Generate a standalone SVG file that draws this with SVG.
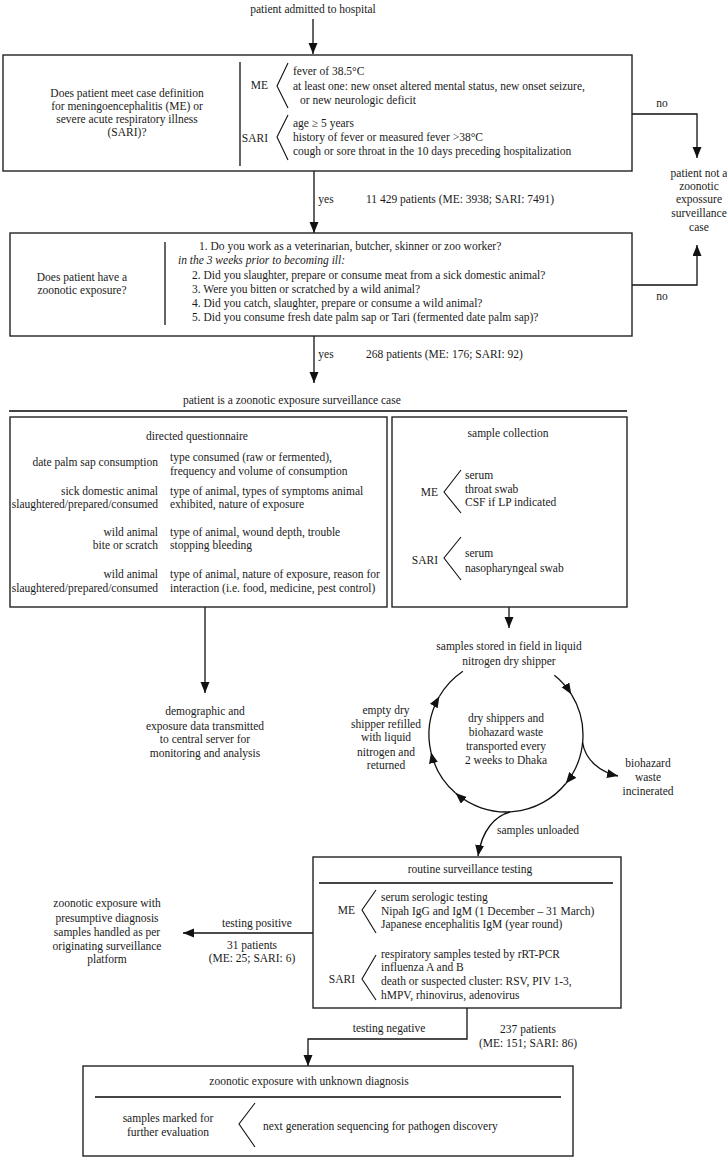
<svg xmlns="http://www.w3.org/2000/svg" width="727" height="1158" viewBox="0 0 727 1158">
<style>
text{font-family:"Liberation Serif","Times New Roman",serif;font-size:11.5px;fill:#1a1a1a}
.c{text-anchor:middle}
.e{text-anchor:end}
.i{font-style:italic}
.box{fill:none;stroke:#222;stroke-width:1.4}
.ln{fill:none;stroke:#111;stroke-width:1.3}
.sep{fill:none;stroke:#444;stroke-width:2}
.chev{fill:none;stroke:#111;stroke-width:1.1}
.arr{fill:none;stroke:#111;stroke-width:1.3;marker-end:url(#ah)}
</style>
<defs>
<marker id="ah" markerUnits="userSpaceOnUse" markerWidth="12" markerHeight="10" refX="11" refY="4.5" orient="auto"><path d="M0,0 L11,4.5 L0,9 z" fill="#111"/></marker>
</defs>
<rect width="727" height="1158" fill="#fff"/>

<g id="connectors">
<path class="arr" d="M313,19 V54"/>
<path class="arr" d="M314,171 V233"/>
<path class="arr" d="M632,114 H697 V158"/>
<path class="arr" d="M632,285 H697 V245"/>
<path class="arr" d="M314,336 V383"/>
<path class="arr" d="M205,607 V693"/>
<path class="arr" d="M509,607 V628"/>
<path class="arr" d="M554.4,675.2 A77,77 0 0 1 571.3,694.2"/>
<path class="arr" d="M571.3,694.2 A77,77 0 0 1 565.8,783.5"/>
<path class="arr" d="M565.8,783.5 A77,77 0 0 1 455.5,793.1"/>
<path class="arr" d="M455.5,793.1 A77,77 0 0 1 431,752.3"/>
<path class="arr" d="M431,752.3 A77,77 0 0 1 439.3,696.5"/>
<path class="ln" d="M439.3,696.5 A77,77 0 0 1 462.9,671.2"/>
<path class="arr" d="M582.5,742 C585,760 600,772 618,776"/>
<path class="arr" d="M510,812 C495,816 482,830 478,856"/>
<path class="arr" d="M313,933 H183"/>
<path class="arr" d="M467,1008 V1039 H308 V1066"/>
<text class="c" x="326" y="203">yes</text>
<text x="366" y="203">11 429 patients (ME: 3938; SARI: 7491)</text>
<text class="c" x="662" y="107">no</text>
<text class="c" x="662" y="300">no</text>
<text class="c" x="326" y="358">yes</text>
<text x="366" y="358">268 patients (ME: 176; SARI: 92)</text>
<text class="c" x="257" y="927">testing positive</text>
<text class="c" x="252" y="949">31 patients</text>
<text class="c" x="252" y="962">(ME: 25; SARI: 6)</text>
<text class="c" x="389" y="1032">testing negative</text>
<text class="c" x="528" y="1033">237 patients</text>
<text class="c" x="528" y="1047">(ME: 151; SARI: 86)</text>
<text class="c" x="538" y="834">samples unloaded</text>
</g>

<g id="admitted">
<text class="c" x="313" y="13">patient admitted to hospital</text>
</g>

<g id="case-definition">
<rect class="box" x="3" y="55" width="629" height="116"/>
<text class="c" x="127" y="97">Does patient meet case definition</text>
<text class="c" x="127" y="110">for meningoencephalitis (ME) or</text>
<text class="c" x="127" y="123">severe acute respiratory illness</text>
<text class="c" x="127" y="136">(SARI)?</text>
<path class="ln" d="M240,62 V166"/>
<text class="e" x="268" y="89">ME</text>
<path class="chev" d="M288,63 L277,86 L288,108"/>
<text x="293" y="75">fever of 38.5°C</text>
<text x="293" y="90">at least one: new onset altered mental status, new onset seizure,</text>
<text x="300" y="104">or new neurologic deficit</text>
<text class="e" x="268" y="142">SARI</text>
<path class="chev" d="M288,115 L277,137 L288,160"/>
<text x="293" y="127">age ≥ 5 years</text>
<text x="293" y="141">history of fever or measured fever &gt;38°C</text>
<text x="293" y="155">cough or sore throat in the 10 days preceding hospitalization</text>
</g>

<g id="not-case">
<text class="c" x="699" y="177">patient not a</text>
<text class="c" x="699" y="190">zoonotic</text>
<text class="c" x="699" y="203">expossure</text>
<text class="c" x="699" y="217">surveillance</text>
<text class="c" x="699" y="231">case</text>
</g>

<g id="zoonotic-exposure">
<rect class="box" x="10" y="233" width="622" height="103"/>
<text class="c" x="82" y="281">Does patient have a</text>
<text class="c" x="82" y="294">zoonotic exposure?</text>
<path class="ln" d="M165,242 V325"/>
<text x="199" y="250">1. Do you work as a veterinarian, butcher, skinner or zoo worker?</text>
<text class="i" x="178" y="264">in the 3 weeks prior to becoming ill:</text>
<text x="192" y="279">2. Did you slaughter, prepare or consume meat from a sick domestic animal?</text>
<text x="192" y="293">3. Were you bitten or scratched by a wild animal?</text>
<text x="192" y="307">4. Did you catch, slaughter, prepare or consume a wild animal?</text>
<text x="192" y="321">5. Did you consume fresh date palm sap or Tari (fermented date palm sap)?</text>
</g>

<g id="surveillance-case">
<text x="183" y="404">patient is a zoonotic exposure surveillance case</text>
<path class="sep" d="M9,411 H627"/>
</g>

<g id="questionnaire">
<rect class="box" x="10" y="417" width="377" height="190"/>
<text class="c" x="197" y="440">directed questionnaire</text>
<text class="e" x="158" y="466">date palm sap consumption</text>
<text x="170" y="461">type consumed (raw or fermented),</text>
<text x="170" y="475">frequency and volume of consumption</text>
<text class="e" x="158" y="495">sick domestic animal</text>
<text class="e" x="158" y="508">slaughtered/prepared/consumed</text>
<text x="170" y="495">type of animal, types of symptoms animal</text>
<text x="170" y="508">exhibited, nature of exposure</text>
<text class="e" x="158" y="536">wild animal</text>
<text class="e" x="158" y="549">bite or scratch</text>
<text x="170" y="536">type of animal, wound depth, trouble</text>
<text x="170" y="549">stopping bleeding</text>
<text class="e" x="158" y="578">wild animal</text>
<text class="e" x="158" y="592">slaughtered/prepared/consumed</text>
<text x="170" y="578">type of animal, nature of exposure, reason for</text>
<text x="170" y="592">interaction (i.e. food, medicine, pest control)</text>
</g>

<g id="sample-collection">
<rect class="box" x="392" y="417" width="235" height="190"/>
<text class="c" x="508" y="437">sample collection</text>
<text class="e" x="438" y="496">ME</text>
<path class="chev" d="M461,470 L444,492 L461,513"/>
<text x="465" y="479">serum</text>
<text x="465" y="493">throat swab</text>
<text x="465" y="506">CSF if LP indicated</text>
<text class="e" x="438" y="564">SARI</text>
<path class="chev" d="M461,537 L444,558 L461,580"/>
<text x="465" y="557">serum</text>
<text x="465" y="572">nasopharyngeal swab</text>
</g>

<g id="data-transmitted">
<text class="c" x="205" y="715">demographic and</text>
<text class="c" x="205" y="730">exposure data transmitted</text>
<text class="c" x="205" y="743">to central server for</text>
<text class="c" x="205" y="757">monitoring and analysis</text>
</g>

<g id="samples-stored">
<text class="c" x="509" y="650">samples stored in field in liquid</text>
<text class="c" x="509" y="665">nitrogen dry shipper</text>
</g>

<g id="transported">
<text class="c" x="506" y="722">dry shippers and</text>
<text class="c" x="506" y="736">biohazard waste</text>
<text class="c" x="506" y="750">transported every</text>
<text class="c" x="506" y="764">2 weeks to Dhaka</text>
</g>

<g id="refilled">
<text class="c" x="386" y="714">empty dry</text>
<text class="c" x="386" y="728">shipper refilled</text>
<text class="c" x="386" y="741">with liquid</text>
<text class="c" x="386" y="756">nitrogen and</text>
<text class="c" x="386" y="769">returned</text>
</g>

<g id="incinerated">
<text class="c" x="648" y="767">biohazard</text>
<text class="c" x="648" y="781">waste</text>
<text class="c" x="648" y="795">incinerated</text>
</g>

<g id="routine-testing">
<rect class="box" x="313" y="857" width="308" height="151"/>
<text class="c" x="470" y="873">routine surveillance testing</text>
<path class="sep" d="M319,883 H613"/>
<text class="e" x="355" y="914">ME</text>
<path class="chev" d="M376,890 L362,910 L376,933"/>
<text x="381" y="901">serum serologic testing</text>
<text x="381" y="915">Nipah IgG and IgM (1 December – 31 March)</text>
<text x="381" y="928">Japanese encephalitis IgM (year round)</text>
<text class="e" x="355" y="983">SARI</text>
<path class="chev" d="M376,955 L362,979 L376,1000"/>
<text x="381" y="958">respiratory samples tested by rRT-PCR</text>
<text x="381" y="971">influenza A and B</text>
<text x="381" y="985">death or suspected cluster: RSV, PIV 1-3,</text>
<text x="381" y="999">hMPV, rhinovirus, adenovirus</text>
</g>

<g id="presumptive">
<text class="c" x="107" y="907">zoonotic exposure with</text>
<text class="c" x="107" y="922">presumptive diagnosis</text>
<text class="c" x="107" y="936">samples handled as per</text>
<text class="c" x="107" y="950">originating surveillance</text>
<text class="c" x="107" y="963">platform</text>
</g>

<g id="unknown-diagnosis">
<rect class="box" x="83" y="1066" width="490" height="90"/>
<text class="c" x="309" y="1085">zoonotic exposure with unknown diagnosis</text>
<path class="sep" d="M95,1097 H561"/>
<text class="c" x="168" y="1122">samples marked for</text>
<text class="c" x="168" y="1136">further evaluation</text>
<path class="chev" d="M255,1103 L239,1124 L255,1147"/>
<text x="263" y="1130">next generation sequencing for pathogen discovery</text>
</g>
</svg>
